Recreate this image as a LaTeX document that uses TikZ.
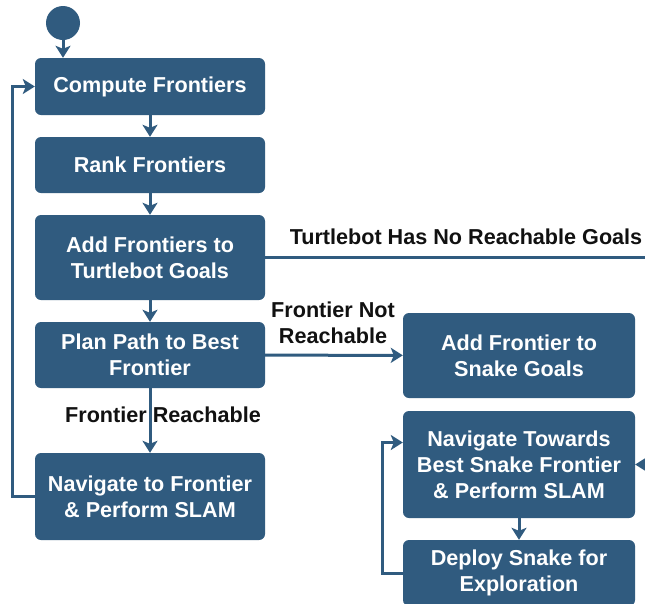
\documentclass[tikz,border=0pt]{standalone}
\usepackage{fontspec}
\setmainfont{Liberation Sans}
\usetikzlibrary{arrows.meta}
\definecolor{boxblue}{RGB}{48,91,127}
\definecolor{labelink}{RGB}{17,17,17}
\tikzset{
  stepbox/.style={draw=none, fill=boxblue, rounded corners=6pt, text=white,
    font=\fontsize{21.6pt}{26pt}\selectfont\bfseries, align=center,
    inner sep=0pt, minimum width=#1},
  stepbox/.default=230pt,
  flow/.style={draw=boxblue, line width=3pt,
    -{Stealth[length=12pt,width=15pt,inset=3pt]}},
  plainline/.style={draw=boxblue, line width=3pt},
  edgelabel/.style={text=labelink, font=\fontsize{21.6pt}{26pt}\selectfont\bfseries,
    align=center, inner sep=0pt},
}
\begin{document}
\begin{tikzpicture}[x=1pt, y=-1pt]
  \fill[white] (0,0) rectangle (645,603);
  \useasboundingbox (0,0) rectangle (645,603);
  \clip (0,0) rectangle (645,603);

  % start state
  \node[circle, fill=boxblue, minimum size=34pt, inner sep=0pt] (start) at (63,23) {};

  % turtlebot column
  \node[stepbox, minimum height=57pt] (comp) at (150,86.5) {Compute Frontiers};
  \node[stepbox, minimum height=56pt] (rank) at (150,165) {Rank Frontiers};
  \node[stepbox, minimum height=85pt] (addt) at (150,257.5) {Add Frontiers to\\Turtlebot Goals};
  \node[stepbox, minimum height=66pt] (plan) at (150,355) {Plan Path to Best\\Frontier};
  \node[stepbox, minimum height=87pt] (navf) at (150,496.5) {Navigate to Frontier\\\& Perform SLAM};

  % snake column
  \node[stepbox=232pt, minimum height=85pt] (adds) at (519,355.5) {Add Frontier to\\Snake Goals};
  \node[stepbox=232pt, minimum height=107pt] (navs) at (519,464.5) {Navigate Towards\\Best Snake Frontier\\\& Perform SLAM};
  \node[stepbox=232pt, minimum height=66pt] (depl) at (519,573) {Deploy Snake for\\Exploration};

  % off-edge ends
  \coordinate (eastout) at (660,257.5);
  \coordinate (eastin) at (660,464.5);

  % connectors
  \draw[flow] (start) -- (comp.north -| start);
  \draw[flow] (comp) -- (rank);
  \draw[flow] (rank) -- (addt);
  \draw[flow] (addt) -- (plan);
  \draw[flow] (plan) -- (navf);
  \draw[flow] (plan) -- (adds);
  \draw[plainline] (addt.east) -- (eastout);
  \draw[flow] (eastin) -- (navs.east);
  \draw[flow] (navs) -- (depl);
  \draw[flow] (navf.west) -- ++(-22,0) |- (comp.west);
  \draw[flow] (depl.west) -- ++(-20,0) |- ([yshift=22pt]navs.west);

  % labels
  \node[edgelabel] (lblnone) at (466,237) {Turtlebot Has No Reachable Goals};
  \node[edgelabel] (lblnot) at (333,323) {Frontier Not\\Reachable};
  \node[edgelabel] (lblreach) at (163,415) {Frontier Reachable};
\end{tikzpicture}
\end{document}
